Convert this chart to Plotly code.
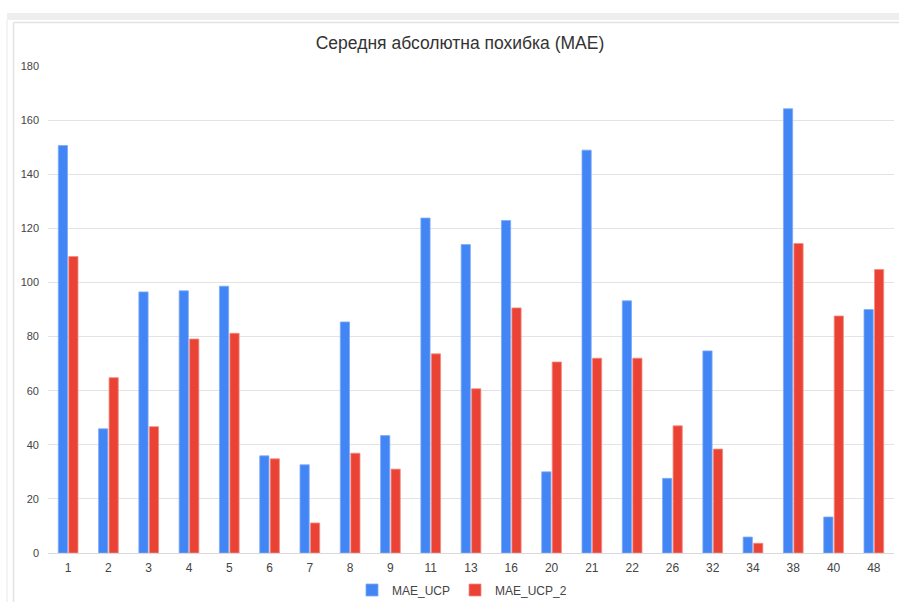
import plotly.graph_objects as go

categories = ["1", "2", "3", "4", "5", "6", "7", "8", "9", "11", "13", "16",
              "20", "21", "22", "26", "32", "34", "38", "40", "48"]
mae_ucp = [150.6, 45.9, 96.5, 96.9, 98.6, 35.9, 32.6, 85.4, 43.4, 123.8, 114.0,
           122.9, 30.0, 148.9, 93.2, 27.6, 74.7, 5.9, 164.2, 13.3, 90.0]
mae_ucp_2 = [109.6, 64.8, 46.7, 79.1, 81.2, 34.8, 11.1, 36.9, 31.0, 73.6, 60.7,
             90.6, 70.6, 72.0, 72.0, 47.0, 38.4, 3.6, 114.4, 87.6, 104.8]
y_ticks = [0, 20, 40, 60, 80, 100, 120, 140, 160, 180]

W, H = 899, 602
L, R, T, B = 48, 5, 66, 49
pw, ph = W - L - R, H - T - B

def px(x):
    return (x - L) / pw

def py(y):
    return (H - B - y) / ph

FONT = "Liberation Sans, Arial, sans-serif"

fig = go.Figure()
fig.add_trace(go.Bar(x=categories, y=mae_ucp, name="MAE_UCP",
                     marker=dict(color="#4285F4", line=dict(color="#7FAAF7", width=0.8))))
fig.add_trace(go.Bar(x=categories, y=mae_ucp_2, name="MAE_UCP_2",
                     marker=dict(color="#EA4335", line=dict(color="#F28B82", width=0.8))))

shapes = [
    dict(type="rect", xref="paper", yref="paper", x0=px(7), x1=px(899), y0=py(20), y1=py(13),
         fillcolor="#eeeeee", line=dict(width=0), layer="below"),
    dict(type="line", xref="paper", yref="paper", x0=px(7), x1=px(7), y0=py(602), y1=py(20),
         line=dict(color="#f0f0f0", width=1.5)),
    dict(type="line", xref="paper", yref="paper", x0=px(13.5), x1=px(13.5), y0=py(602), y1=py(22.5),
         line=dict(color="#e2e2e2", width=1.5)),
    dict(type="line", xref="paper", yref="paper", x0=px(13.5), x1=px(899), y0=py(22.5), y1=py(22.5),
         line=dict(color="#e2e2e2", width=1.5)),
]

fig.update_layout(
    width=W, height=H,
    margin=dict(l=L, r=R, t=T, b=B, pad=0, autoexpand=False),
    paper_bgcolor="white", plot_bgcolor="white",
    font=dict(family=FONT, color="#444444", size=12),
    title=dict(text="Середня абсолютна похибка (MAE)", x=460 / W, xanchor="center",
               y=1 - 43 / H, yanchor="middle",
               font=dict(family=FONT, size=17.5, color="#333333")),
    barmode="group", bargap=0.48, bargroupgap=0.12,
    showlegend=True,
    legend=dict(orientation="h", x=px(462), xanchor="center", y=py(590), yanchor="middle",
                font=dict(family=FONT, size=12, color="#444444"), itemwidth=30,
                bgcolor="rgba(0,0,0,0)"),
    shapes=shapes,
)
fig.update_xaxes(type="category", showgrid=False, showline=True, linecolor="#d9d9d9",
                 ticks="", tickfont=dict(size=12, color="#444444"), ticklabelstandoff=4,
                 automargin=False)
fig.update_yaxes(range=[0, 180], tickvals=y_ticks, showgrid=True, gridcolor="#e3e3e3",
                 gridwidth=1, zeroline=False, showline=False, ticks="",
                 tickfont=dict(size=11, color="#444444"), ticklabelstandoff=8,
                 automargin=False)

fig.write_html("out.html", config={"displayModeBar": False},
               post_script="document.body.style.margin='0px';document.body.style.overflow='hidden';")
